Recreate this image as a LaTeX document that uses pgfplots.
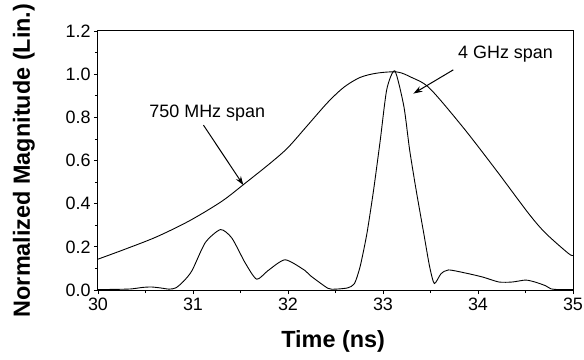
\documentclass[border=0pt]{standalone}
\usepackage{fontspec}
\setmainfont{Liberation Sans}
\usepackage{pgfplots}
\pgfplotsset{compat=1.18}
\usetikzlibrary{arrows.meta}
\begin{document}
\begin{tikzpicture}
\useasboundingbox (-98bp,-70bp) rectangle (486bp,290bp);
\begin{axis}[
  at={(0,0)}, anchor=south west,
  scale only axis, width=475bp, height=259bp,
  xmin=30, xmax=35, ymin=0, ymax=1.2,
  xtick={30,31,32,33,34,35},
  ytick={0,0.2,0.4,0.6,0.8,1.0,1.2},
  minor xtick={30.5,31.5,32.5,33.5,34.5},
  minor ytick={0.1,0.3,0.5,0.7,0.9,1.1},
  tick align=outside,
  major tick length=4bp, minor tick length=3bp,
  xtick pos=bottom, ytick pos=left,
  /pgf/number format/assume math mode=true,
  yticklabel style={/pgf/number format/fixed, /pgf/number format/fixed zerofill, /pgf/number format/precision=1},
  xticklabel style={/pgf/number format/fixed},
  tick label style={font=\fontsize{18}{20}\selectfont},
  axis line style={line width=1bp},
  every tick/.style={line width=0.8bp, black},
  xlabel={Time (ns)},
  ylabel={Normalized Magnitude (Lin.)},
  label style={font=\fontsize{23.5}{26}\selectfont\bfseries},
  x label style={at={(axis description cs:0.495,-0.2)}, anchor=center},
  y label style={at={(axis description cs:-0.156,0.5)}, anchor=center},
  clip=false,
]
% 750 MHz span
\addplot[black, line width=0.9bp, smooth] coordinates {
(30.00,0.143) (30.26,0.185) (30.61,0.245) (30.96,0.32) (31.30,0.41)
(31.55,0.495) (31.82,0.59) (32.00,0.66) (32.21,0.765) (32.42,0.87)
(32.59,0.94) (32.76,0.985) (32.94,1.005) (33.15,1.01) (33.30,0.985)
(33.49,0.935) (33.84,0.755) (34.19,0.556) (34.53,0.356) (34.71,0.264)
(34.95,0.17) (35.00,0.16)
};
% 4 GHz span
\addplot[black, line width=0.9bp, smooth, tension=0.4] coordinates {
(30.00,0.002) (30.20,0.003) (30.35,0.005) (30.47,0.012) (30.56,0.014) (30.65,0.01)
(30.75,0.004) (30.82,0.01) (30.90,0.04) (30.99,0.09) (31.13,0.22) (31.29,0.28)
(31.41,0.24) (31.55,0.125) (31.67,0.05) (31.79,0.09) (31.97,0.14)
(32.18,0.09) (32.24,0.065) (32.42,0.008) (32.50,0.004) (32.63,0.01)
(32.70,0.03) (32.76,0.11) (32.83,0.26) (32.90,0.46) (32.97,0.69)
(33.04,0.93) (33.125,1.015) (33.22,0.85) (33.28,0.65) (33.35,0.46)
(33.43,0.26) (33.49,0.11) (33.54,0.03) (33.61,0.075) (33.69,0.093)
(33.875,0.078) (34.05,0.06) (34.22,0.037) (34.36,0.037) (34.50,0.046)
(34.60,0.037) (34.71,0.02) (34.77,0.005) (34.85,0.002) (35.00,0.002)
};
\node[font=\fontsize{18}{20}\selectfont] at (axis cs:31.15,0.82) {750 MHz span};
\node[font=\fontsize{18}{20}\selectfont] at (axis cs:34.29,1.095) {4 GHz span};
\draw[-{Stealth[length=9bp,width=6bp]}, line width=1bp] (axis cs:31.11,0.764) -- (axis cs:31.53,0.486);
\draw[-{Stealth[length=9bp,width=6bp]}, line width=1bp] (axis cs:33.74,1.02) -- (axis cs:33.32,0.91);
\end{axis}
\end{tikzpicture}
\end{document}
